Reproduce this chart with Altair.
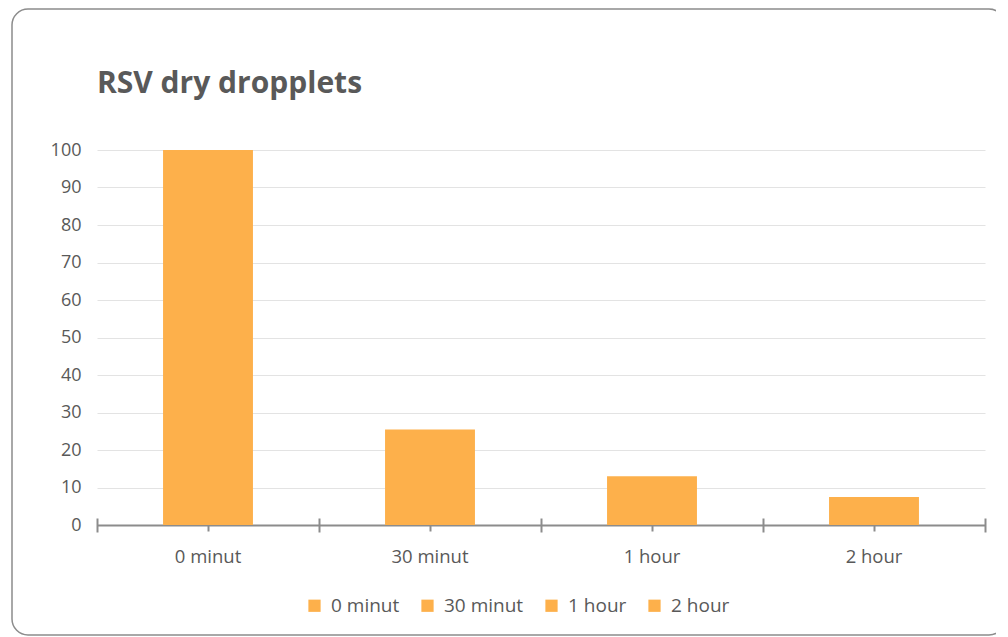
import altair as alt
import pandas as pd

categories = ["0 minut", "30 minut", "1 hour", "2 hour"]
values = [100, 25.5, 13, 7.5]
title_text = "RSV dry dropplets"
bar_color = "#FDB04B"
text_color = "#595959"
axis_color = "#8C8C8C"
font = "Open Sans"

df = pd.DataFrame({"time": categories, "value": values})
title_df = pd.DataFrame({"t": [title_text]})

xscale = alt.Scale(domain=categories, paddingInner=0, paddingOuter=0)

bars = alt.Chart(df).mark_bar(color=bar_color, width=alt.RelativeBandSize(0.405)).encode(
    x=alt.X("time:N", sort=categories, scale=xscale,
            axis=alt.Axis(title=None, labelAngle=0, ticks=False, domain=True, grid=False,
                          domainColor=axis_color, domainWidth=2,
                          labelFontSize=18.5, labelColor=text_color, labelFont=font,
                          labelPadding=22, orient="bottom")),
    y=alt.Y("value:Q", scale=alt.Scale(domain=[0, 100]),
            axis=alt.Axis(title=None, values=list(range(0, 101, 10)), ticks=False, domain=False,
                          labelOverlap=False,
                          labelFontSize=18, labelColor=text_color, labelFont=font,
                          labelPadding=16, gridColor="#E3E3E3", gridWidth=1)),
    color=alt.Color("time:N", sort=categories,
                    scale=alt.Scale(domain=categories, range=[bar_color] * 4),
                    legend=alt.Legend(title=None, orient="none", direction="horizontal",
                                      legendX=208, legendY=446, symbolType="square",
                                      symbolSize=150, symbolStrokeWidth=0,
                                      labelFontSize=19, labelColor=text_color, labelFont=font,
                                      columnPadding=18, labelOffset=7)),
)

ticks_extent = alt.Chart(df).mark_bar(opacity=0).encode(
    x=alt.X("time:N", sort=categories, scale=xscale,
            axis=alt.Axis(title=None, labels=False, domain=False, grid=False,
                          tickBand="extent", tickSize=14, offset=-7,
                          tickColor=axis_color, tickWidth=2, orient="bottom")),
    y=alt.Y("value:Q", axis=None),
)

ticks_center = alt.Chart(df).mark_bar(opacity=0).encode(
    x=alt.X("time:N", sort=categories, scale=xscale,
            axis=alt.Axis(title=None, labels=False, domain=False, grid=False,
                          tickSize=12, offset=-6,
                          tickColor=axis_color, tickWidth=2, orient="bottom")),
    y=alt.Y("value:Q", axis=None),
)

title = alt.Chart(title_df).mark_text(
    align="left", baseline="alphabetic", fontSize=30, fontWeight="bold",
    color=text_color, font=font
).encode(x=alt.value(0), y=alt.value(-57), text="t:N")

frame = alt.Chart(title_df).mark_rect(fill=None, stroke=axis_color, strokeWidth=1.5,
                                       cornerRadius=16).encode(
    x=alt.value(-85), x2=alt.value(908), y=alt.value(-141), y2=alt.value(485)
)

chart = alt.layer(frame, title, bars, ticks_extent, ticks_center).resolve_axis(
    x="independent", y="independent"
).properties(
    width=888, height=375,
    autosize=alt.AutoSizeParams(type="none"),
    padding={"left": 89, "top": 142, "right": 11, "bottom": 112},
).configure(
    background="white",
    view=alt.ViewConfig(strokeWidth=0, stroke="transparent"),
)

chart.save("out.html", embed_options={"renderer": "svg", "actions": False})
